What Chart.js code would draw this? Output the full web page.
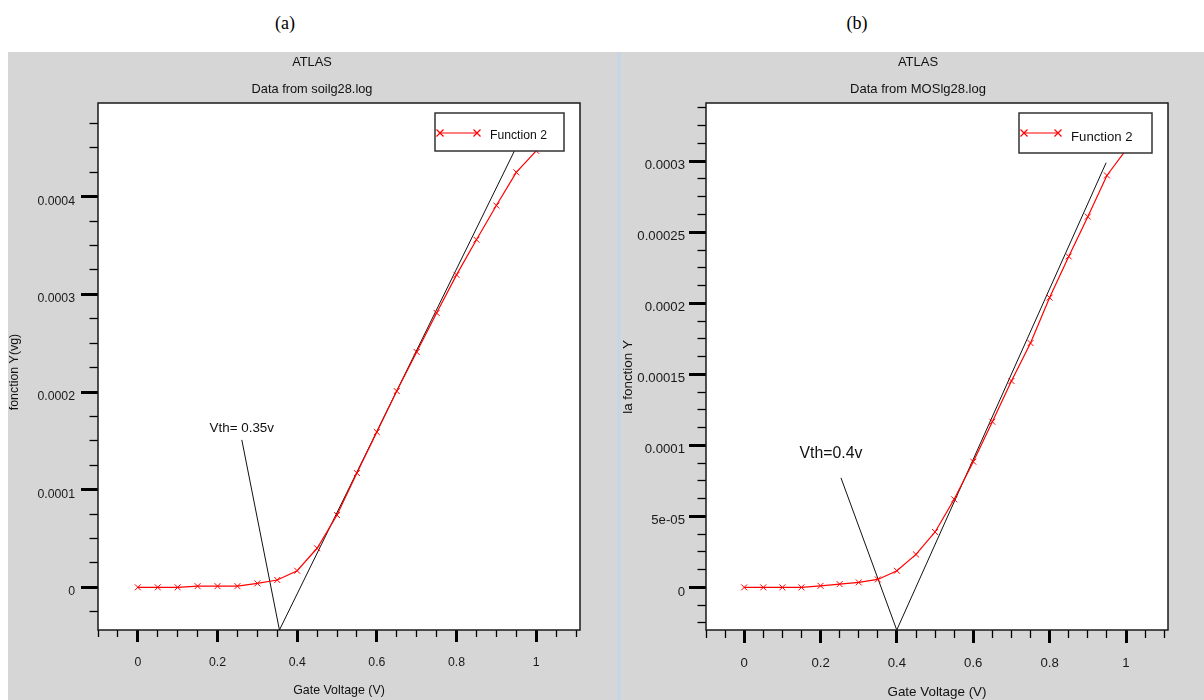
<!DOCTYPE html>
<html>
<head>
<meta charset="utf-8">
<script src="https://cdn.jsdelivr.net/npm/chart.js@4.4.1/dist/chart.umd.min.js"></script>
<style>
  html, body { margin: 0; padding: 0; background: #ffffff; }
  body { position: relative; width: 1204px; height: 700px; overflow: hidden; }
  .cap { position: absolute; top: 13px; font: 18px "Liberation Serif", "Times New Roman", serif; color: #000; transform: translateX(-50%); }
  .panel { position: absolute; top: 52px; height: 648px; background: #d6d6d6; }
  .sep { position: absolute; left: 617px; top: 52px; width: 4px; height: 648px; background: #c9d5e6; }
  canvas { display: block; }
</style>
</head>
<body>
<div class="cap" style="left:285px">(a)</div>
<div class="cap" style="left:857px">(b)</div>
<div class="panel" style="left:8px;width:609px"><canvas id="chartA" width="609" height="648"></canvas></div>
<div class="sep"></div>
<div class="panel" style="left:621px;width:583px"><canvas id="chartB" width="583" height="648"></canvas></div>
<script>
// Gate voltage sweep (V), shared by both devices
const gateVoltage = [0, 0.05, 0.1, 0.15, 0.2, 0.25, 0.3, 0.35, 0.4, 0.45, 0.5,
                     0.55, 0.6, 0.65, 0.7, 0.75, 0.8, 0.85, 0.9, 0.95, 1.0];

// Y-function of the SOI device (soilg28.log)
const yFunctionSoi = [0, 0, 0, 0.0000012, 0.0000012, 0.0000012, 0.000004, 0.0000075, 0.000017, 0.00004, 0.000074,
                      0.000117, 0.000159, 0.000201, 0.000241, 0.000281, 0.00032, 0.000356, 0.000391, 0.000425, 0.000447];

// Y-function of the bulk MOS device (MOSlg28.log)
const yFunctionMos = [0, 0, 0, 0, 0.0000011, 0.0000023, 0.0000035, 0.0000056, 0.0000117, 0.0000232, 0.000039,
                      0.000062, 0.0000885, 0.0001166, 0.0001453, 0.000172, 0.000204, 0.000233, 0.000261, 0.00029, 0.000308];

// Linear extrapolation lines and the pointer to the threshold label
const tangentSoi = [{x: 0.3555, y: -0.0000437}, {x: 0.9455, y: 0.000447}];
const pointerSoi = [{x: 0.261, y: 0.000151}, {x: 0.3555, y: -0.0000437}];
const tangentMos = [{x: 0.3996, y: -0.00003}, {x: 0.948, y: 0.000299}];
const pointerMos = [{x: 0.2535, y: 0.0000771}, {x: 0.3996, y: -0.00003}];

// Axis ticks and their printed labels
const xMajorTicks = [0, 0.2, 0.4, 0.6, 0.8, 1];
const xTickLabels = ['0', '0.2', '0.4', '0.6', '0.8', '1'];
const yMajorTicksSoi = [0, 0.0001, 0.0002, 0.0003, 0.0004];
const yTickLabelsSoi = ['0', '0.0001', '0.0002', '0.0003', '0.0004'];
const yMajorTicksMos = [0, 0.00005, 0.0001, 0.00015, 0.0002, 0.00025, 0.0003];
const yTickLabelsMos = ['0', '5e-05', '0.0001', '0.00015', '0.0002', '0.00025', '0.0003'];

const SANS = "'Liberation Sans', Arial, sans-serif";

function drawCross(ctx, x, y, r) {
  ctx.beginPath();
  ctx.moveTo(x - r, y - r); ctx.lineTo(x + r, y + r);
  ctx.moveTo(x - r, y + r); ctx.lineTo(x + r, y - r);
  ctx.stroke();
}

function buildPanel(canvasId, p) {
  const toXY = (xs, ys) => xs.map((x, i) => ({x: x, y: ys[i]}));

  const panelDecor = {
    id: 'panelDecor',
    beforeDraw(chart) {
      const ctx = chart.ctx, a = chart.chartArea;
      ctx.save();
      ctx.fillStyle = '#ffffff';
      ctx.fillRect(a.left, a.top, a.right - a.left, a.bottom - a.top);
      ctx.restore();
    },
    afterDatasetsDraw(chart) {
      const ctx = chart.ctx, a = chart.chartArea;
      const sx = chart.scales.x, sy = chart.scales.y;
      ctx.save();
      // threshold label, anchored to the top of its pointer line
      const anchor = p.pointer[0];
      ctx.fillStyle = '#111';
      ctx.font = p.vthFont;
      ctx.textAlign = 'center';
      ctx.textBaseline = 'middle';
      ctx.fillText(p.vthText, sx.getPixelForValue(anchor.x) + p.vthDx, sy.getPixelForValue(anchor.y) + p.vthDy);

      // legend box
      const lw = p.legend.w, lh = p.legend.h;
      const lx = a.right - p.legend.right - lw, ly = a.top + p.legend.top;
      ctx.fillStyle = '#ffffff';
      ctx.fillRect(lx, ly, lw, lh);
      ctx.strokeStyle = '#333';
      ctx.lineWidth = 1.5;
      ctx.strokeRect(lx, ly, lw, lh);
      const ds = chart.data.datasets[0];
      ctx.strokeStyle = ds.borderColor;
      ctx.lineWidth = 1.2;
      const y0 = ly + 20;
      ctx.beginPath();
      ctx.moveTo(lx + p.legend.x1, y0); ctx.lineTo(lx + p.legend.x2, y0);
      ctx.stroke();
      drawCross(ctx, lx + p.legend.x1, y0, 3.5);
      drawCross(ctx, lx + p.legend.x2, y0, 3.5);
      ctx.fillStyle = '#111';
      ctx.font = p.legendFont;
      ctx.textAlign = 'left';
      ctx.textBaseline = 'middle';
      ctx.fillText(ds.label, lx + p.legend.tx, ly + p.legend.ty);

      // plot frame
      ctx.strokeStyle = '#1a1a1a';
      ctx.lineWidth = 1.5;
      ctx.strokeRect(a.left, a.top, a.right - a.left, a.bottom - a.top);
      ctx.restore();
    },
    afterDraw(chart) {
      const ctx = chart.ctx, a = chart.chartArea;
      ctx.save();
      ctx.fillStyle = '#111';
      ctx.textAlign = 'center';
      ctx.textBaseline = 'middle';
      ctx.font = p.titleFont;
      ctx.fillText('ATLAS', p.titleX, 10);
      ctx.fillText(p.subtitle, p.titleX, 37);
      ctx.font = p.axisFont;
      ctx.fillText('Gate Voltage (V)', (a.left + a.right) / 2, p.xTitleY);
      ctx.translate(p.yTitleX, p.yTitleY);
      ctx.rotate(-Math.PI / 2);
      ctx.fillText(p.yTitle, 0, 0);
      ctx.restore();
    }
  };

  const tickFont = {family: SANS, size: p.tickSize};

  return new Chart(document.getElementById(canvasId), {
    type: 'scatter',
    data: {
      datasets: [
        {
          label: 'Function 2',
          data: toXY(gateVoltage, p.values),
          showLine: true,
          borderColor: '#ff0000',
          backgroundColor: '#ff0000',
          borderWidth: 1.2,
          pointStyle: 'crossRot',
          pointRadius: 4.2,
          pointBorderWidth: 1,
          pointHoverRadius: 4.2
        },
        {
          label: 'extrapolation',
          data: p.tangent,
          showLine: true,
          borderColor: '#111111',
          borderWidth: 1,
          pointRadius: 0
        },
        {
          label: 'pointer',
          data: p.pointer,
          showLine: true,
          borderColor: '#111111',
          borderWidth: 1,
          pointRadius: 0
        }
      ]
    },
    options: {
      responsive: false,
      animation: false,
      devicePixelRatio: 1,
      layout: {padding: {top: 51, right: p.padRight, left: 0, bottom: 0}},
      plugins: {legend: {display: false}, tooltip: {enabled: false}, title: {display: false}},
      scales: {
        x: {
          type: 'linear', position: 'bottom', weight: 1,
          min: -0.1, max: 1.11,
          afterBuildTicks: s => { s.ticks = xMajorTicks.map(v => ({value: v})); },
          afterFit: s => { s.height = 70; },
          ticks: {autoSkip: false, maxRotation: 0, padding: p.xPad, color: '#1a1a1a', font: tickFont,
                  callback: (v, i) => xTickLabels[i]},
          grid: {drawOnChartArea: false, drawTicks: true, tickLength: p.xMajorLen, tickWidth: 3, tickColor: '#000'},
          border: {display: false}
        },
        xm: {
          type: 'linear', position: 'bottom', weight: 0,
          min: -0.1, max: 1.11,
          afterFit: s => { s.height = 0; },
          ticks: {display: false, stepSize: 0.05, autoSkip: false, includeBounds: false, maxTicksLimit: 100},
          grid: {drawOnChartArea: false, drawTicks: true, tickLength: p.xMinorLen, tickWidth: 1.3, tickColor: '#000'},
          border: {display: false}
        },
        y: {
          type: 'linear', position: 'left', weight: 1,
          min: p.yMin, max: p.yMax,
          afterBuildTicks: s => { s.ticks = p.yMajor.map(v => ({value: v})); },
          afterFit: s => { s.width = p.yWidth; },
          ticks: {autoSkip: false, padding: p.yPad, labelOffset: 4.5, color: '#1a1a1a', font: tickFont,
                  callback: (v, i) => p.yLabels[i]},
          grid: {drawOnChartArea: false, drawTicks: true, tickLength: 17, tickWidth: 3, tickColor: '#000'},
          border: {display: false}
        },
        ym: {
          type: 'linear', position: 'left', weight: 0,
          min: p.yMin, max: p.yMax,
          afterFit: s => { s.width = 0; },
          ticks: {display: false, stepSize: p.yMinorStep, autoSkip: false, includeBounds: false, maxTicksLimit: 100},
          grid: {drawOnChartArea: false, drawTicks: true, tickLength: 8.5, tickWidth: 1.3, tickColor: '#000'},
          border: {display: false}
        }
      }
    },
    plugins: [panelDecor]
  });
}

buildPanel('chartA', {
  values: yFunctionSoi, tangent: tangentSoi, pointer: pointerSoi,
  yMin: -0.0000437, yMax: 0.000496, yMajor: yMajorTicksSoi, yLabels: yTickLabelsSoi, yMinorStep: 0.000025,
  yWidth: 90, padRight: 37, tickSize: 12.3, xPad: 13, yPad: 6, xMajorLen: 12, xMinorLen: 7,
  subtitle: 'Data from soilg28.log', titleX: 304, titleFont: '12.8px ' + SANS,
  axisFont: '12.4px ' + SANS, xTitleY: 639, yTitle: 'fonction Y(vg)', yTitleX: 7, yTitleY: 320,
  vthText: 'Vth= 0.35v', vthFont: '13.4px ' + SANS, vthDx: 0, vthDy: -12,
  legendFont: '12.2px ' + SANS,
  legend: {w: 129, h: 38, right: 16, top: 10, x1: 5, x2: 42, tx: 55, ty: 23}
});

buildPanel('chartB', {
  values: yFunctionMos, tangent: tangentMos, pointer: pointerMos,
  yMin: -0.00003, yMax: 0.000341, yMajor: yMajorTicksMos, yLabels: yTickLabelsMos, yMinorStep: 0.0000125,
  yWidth: 85, padRight: 36, tickSize: 13.2, xPad: 12, yPad: 4, xMajorLen: 13, xMinorLen: 8,
  subtitle: 'Data from MOSlg28.log', titleX: 297, titleFont: '13px ' + SANS,
  axisFont: '13.4px ' + SANS, xTitleY: 640, yTitle: 'la fonction Y', yTitleX: 7, yTitleY: 325,
  vthText: 'Vth=0.4v', vthFont: '15.8px ' + SANS, vthDx: -10, vthDy: -24,
  legendFont: '13.2px ' + SANS,
  legend: {w: 133, h: 40, right: 16, top: 10, x1: 5, x2: 39, tx: 52, ty: 24}
});
</script>
</body>
</html>
